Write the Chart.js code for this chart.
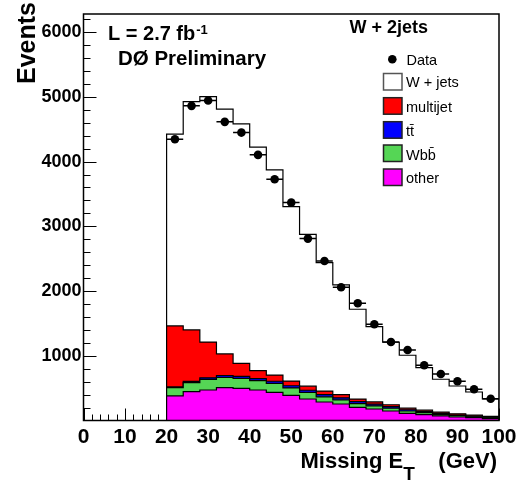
<!DOCTYPE html>
<html lang="en">
<head>
<meta charset="UTF-8">
<title>W + 2jets - Missing ET</title>
<script src="https://cdn.jsdelivr.net/npm/chart.js@4"></script>
<style>
  html, body { margin: 0; padding: 0; background: #fff; }
  #wrap { width: 529px; height: 483px; }
</style>
</head>
<body>
<div id="wrap"><canvas id="met" width="529" height="483"></canvas></div>
<script>
// Missing ET, W + 2 jets, 4 GeV bins from 20 to 100 GeV
const binLow = [20, 24, 28, 32, 36, 40, 44, 48, 52, 56, 60, 64, 68, 72, 76, 80, 84, 88, 92, 96];
const binHigh = 100;
const binWidth = 4;

const dataEvents = [4346, 4861, 4943, 4614, 4448, 4104, 3728, 3366, 2810, 2465, 2059, 1811, 1487, 1213, 1090, 853, 719, 606, 482, 337];

// stack components (bottom to top: other, Wbb, tt, multijet, W+jets)
const other    = [379, 445, 471, 507, 497, 471, 436, 389, 332, 286, 255, 204, 178, 147, 111, 90, 70, 54, 43, 28];
const wbb      = [128, 140, 163, 160, 155, 144, 138, 115, 102, 80, 64, 58, 48, 44, 36, 31, 26, 20, 15, 14];
const ttbar    = [12, 18, 25, 28, 30, 31, 32, 33, 33, 33, 32, 29, 26, 22, 19, 16, 13, 11, 9, 7];
const multijet = [942, 797, 552, 333, 202, 124, 96, 72, 63, 56, 50, 40, 35, 30, 25, 22, 20, 18, 16, 14];
const wjets    = [2962, 3527, 3794, 3782, 3699, 3453, 3170, 2695, 2345, 1984, 1693, 1388, 1163, 966, 817, 657, 508, 430, 357, 269];

const xTicks = [0, 10, 20, 30, 40, 50, 60, 70, 80, 90, 100];
const yTicks = [1000, 2000, 3000, 4000, 5000, 6000];

const FONT = '"Liberation Sans", Arial, Helvetica, sans-serif';

function stackUp(...parts) {
    return binLow.map((_, i) => parts.reduce((s, p) => s + p[i], 0));
}

// outline of a histogram as points for a stepped line
function stepPoints(tops) {
    const last = binLow.length - 1;
    const pts = [{ x: binLow[0], y: 0 }];
    binLow.forEach((lo, i) => pts.push({ x: lo, y: tops[i] }));
    pts.push({ x: binHigh, y: tops[last] });
    pts.push({ x: binHigh, y: 0 });
    return pts;
}

function histo(label, tops, color) {
    return {
        label: label,
        data: stepPoints(tops),
        stepped: 'before',
        fill: 'origin',
        backgroundColor: color,
        borderColor: '#000',
        borderWidth: 1.2,
        pointRadius: 0,
        tension: 0
    };
}

const topOther = stackUp(other);
const topWbb = stackUp(other, wbb);
const topTT = stackUp(other, wbb, ttbar);
const topMJ = stackUp(other, wbb, ttbar, multijet);
const topAll = stackUp(other, wbb, ttbar, multijet, wjets);

// ticks pointing into the frame, drawn under the histograms
const innerTicks = {
    id: 'innerTicks',
    beforeDatasetsDraw(chart) {
        const { ctx, chartArea: a, scales: { x, y } } = chart;
        ctx.save();
        ctx.strokeStyle = '#000';
        ctx.lineWidth = 1;
        ctx.beginPath();
        for (let v = 0; v <= 100; v += 2) {
            const px = Math.round(x.getPixelForValue(v)) + 0.5;
            const len = v % 10 === 0 ? 12 : 6;
            ctx.moveTo(px, a.bottom);
            ctx.lineTo(px, a.bottom - len);
        }
        for (let v = 200; v <= y.max; v += 200) {
            const py = Math.round(y.getPixelForValue(v)) + 0.5;
            const len = v % 1000 === 0 ? 13 : 7;
            ctx.moveTo(a.left, py);
            ctx.lineTo(a.left + len, py);
        }
        ctx.stroke();
        ctx.restore();
    },
    afterDatasetsDraw(chart) {
        const { ctx, chartArea: a } = chart;
        ctx.save();
        ctx.strokeStyle = '#000';
        ctx.lineWidth = 1.5;
        ctx.strokeRect(a.left, a.top, a.right - a.left, a.bottom - a.top);
        ctx.restore();
    }
};

// horizontal bin-width bars on the data points
const binBars = {
    id: 'binBars',
    afterDatasetsDraw(chart) {
        const { ctx, scales: { x, y } } = chart;
        ctx.save();
        ctx.strokeStyle = '#000';
        ctx.lineWidth = 1.5;
        ctx.beginPath();
        binLow.forEach((lo, i) => {
            const py = y.getPixelForValue(dataEvents[i]);
            ctx.moveTo(x.getPixelForValue(lo), py);
            ctx.lineTo(x.getPixelForValue(lo + binWidth), py);
        });
        ctx.stroke();
        ctx.restore();
    }
};

// axis titles, labels and the legend box
const texts = {
    id: 'texts',
    afterDraw(chart) {
        const ctx = chart.ctx;
        ctx.save();
        ctx.fillStyle = '#000';
        ctx.textBaseline = 'alphabetic';
        ctx.textAlign = 'left';

        // y title
        ctx.save();
        ctx.font = 'bold 25px ' + FONT;
        ctx.translate(35, 2);
        ctx.rotate(-Math.PI / 2);
        ctx.textAlign = 'right';
        ctx.fillText('Events', 0, 0);
        ctx.restore();

        // x title
        ctx.font = 'bold 22px ' + FONT;
        ctx.fillText('Missing E', 300.5, 468);
        const wE = ctx.measureText('Missing E').width;
        ctx.textAlign = 'right';
        ctx.fillText('(GeV)', 497, 468);
        ctx.textAlign = 'left';
        ctx.font = 'bold 19px ' + FONT;
        ctx.fillText('T', 300.5 + wE, 480);

        // luminosity
        ctx.font = 'bold 20px ' + FONT;
        ctx.fillText('L = 2.7 fb', 108, 40);
        const wL = ctx.measureText('L = 2.7 fb').width;
        ctx.font = 'bold 13px ' + FONT;
        ctx.fillText('-1', 108 + wL + 1, 33.5);
        ctx.font = 'bold 20.5px ' + FONT;
        ctx.fillText('DØ Preliminary', 118, 65);

        // legend
        ctx.font = 'bold 18px ' + FONT;
        ctx.fillText('W + 2jets', 349.5, 33.3);

        ctx.beginPath();
        ctx.arc(392.3, 59.3, 4.3, 0, Math.PI * 2);
        ctx.fill();
        ctx.font = '14.5px ' + FONT;
        ctx.fillText('Data', 406.5, 65);

        const entries = [
            ['W + jets', '#ffffff', '#555', 73.5, 87],
            ['multijet', '#ff0000', '#222', 97.7, 111.5],
            ['tt\u0304', '#0000ff', '#222', 121.7, 136],
            ['Wbb\u0304', '#55d655', '#222', 145, 159.5],
            ['other', '#ff00ff', '#222', 169, 183]
        ];
        entries.forEach(([name, fill, edge, top, base]) => {
            ctx.fillStyle = fill;
            ctx.fillRect(383.5, top, 18.5, 16.5);
            ctx.strokeStyle = edge;
            ctx.lineWidth = 1.5;
            ctx.strokeRect(383.5, top, 18.5, 16.5);
            ctx.fillStyle = '#000';
            ctx.fillText(name, 406, base);
        });
        ctx.restore();
    }
};

new Chart(document.getElementById('met'), {
    type: 'line',
    data: {
        datasets: [
            {
                label: 'Data',
                data: binLow.map((lo, i) => ({ x: lo + binWidth / 2, y: dataEvents[i] })),
                showLine: false,
                pointRadius: 4.3,
                pointBackgroundColor: '#000',
                pointBorderColor: '#000',
                pointBorderWidth: 0
            },
            histo('other', topOther, '#ff00ff'),
            histo('Wbb', topWbb, '#55d655'),
            histo('tt', topTT, '#0000ff'),
            histo('multijet', topMJ, '#ff0000'),
            histo('W + jets', topAll, '#ffffff')
        ]
    },
    options: {
        responsive: false,
        animation: false,
        events: [],
        layout: { padding: { top: 14, right: 30, left: 0, bottom: 0 } },
        plugins: {
            legend: { display: false },
            tooltip: { enabled: false }
        },
        scales: {
            x: {
                type: 'linear',
                min: 0,
                max: 100,
                grid: { display: false, drawTicks: false },
                border: { display: false },
                afterBuildTicks: s => { s.ticks = xTicks.map(v => ({ value: v })); },
                afterFit: s => { s.height = 62.5; },
                ticks: {
                    padding: 4,
                    color: '#000',
                    maxRotation: 0,
                    autoSkip: false,
                    callback: v => String(v),
                    font: { family: FONT, size: 21, weight: 'bold' }
                }
            },
            y: {
                min: 0,
                max: 6280,
                grid: { display: false, drawTicks: false },
                border: { display: false },
                afterBuildTicks: s => { s.ticks = yTicks.map(v => ({ value: v })); },
                afterFit: s => { s.width = 83.5; },
                ticks: {
                    padding: 2,
                    color: '#000',
                    autoSkip: false,
                    callback: v => String(v),
                    font: { family: FONT, size: 18, weight: 'bold' }
                }
            }
        }
    },
    plugins: [innerTicks, binBars, texts]
});
</script>
</body>
</html>
